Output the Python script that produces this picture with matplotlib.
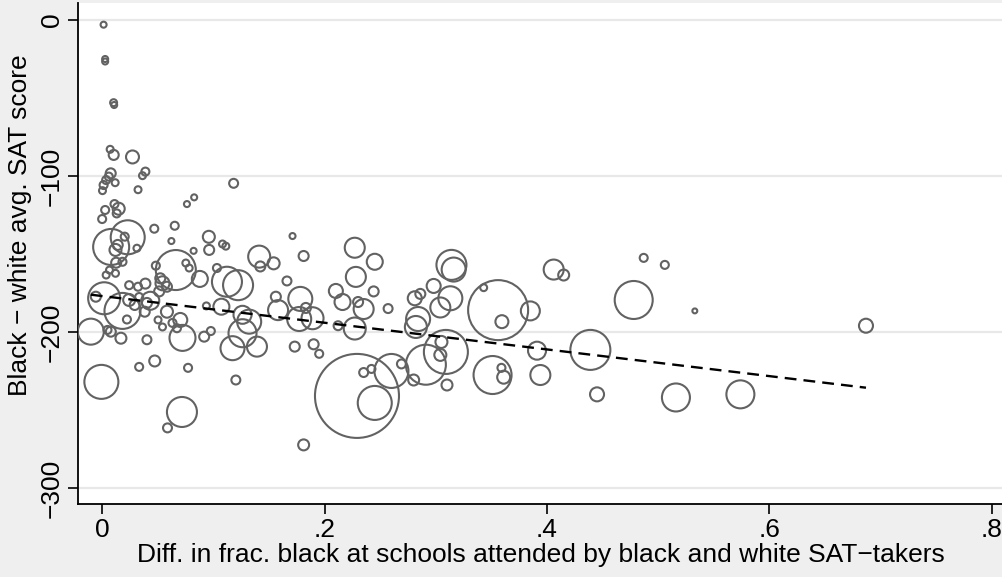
import numpy as np
import matplotlib
matplotlib.use("Agg")
import matplotlib.pyplot as plt

plt.rcParams['font.family'] = ['Liberation Sans Narrow', 'Liberation Sans', 'DejaVu Sans']

# difference in fraction black at schools, black-white SAT gap, bubble weight
frac_diff = [
    .001, .0024, .0024, .010, .0105, .0069, .0101, .027, .0074, .0057,
    .0033, .001, 0.0, .0114, .0386, .036, .032, .118, .076, .0825,
    .0108, .0146, .0024, .0128, -.0003, .0466, .065, .062, .0078, .0227,
    .020, .031, .0137, .0117, .0123, .018, .0063, .0033, .0117, .0957,
    .096, .108, .111, .082, .075, .078, .066, .0876, .048, .103,
    .112, .122, .141, .142, .154, .171, .181, .166, .156, .158,
    .178, .183, .177, .189, .173, .190, .195, .107, .0935, .126,
    .132, .126, .117, .139, .0915, .0975, .0015, -.006, .018, -.0105,
    .0045, .0075, .0166, .040, .054, .052, .051, .058, .024, .032,
    .0386, .024, .033, .029, .040, .038, .022, .058, .050, .054,
    .063, .070, .067, .072, .043, -.001, .033, .047, .077, .0715,
    .0585, .120, .181, .227, .245, .228, .210, .216, .244, .230,
    .235, .257, .212, .227, .281, .286, .298, .313, .304, .284,
    .282, .314, .316, .343, .356, .385, .3594, .406, .415, .229,
    .245, .235, .242, .260, .269, .280, .291, .309, .305, .304,
    .310, .351, .359, .361, .391, .394, .439, .445, .478, .487,
    .506, .533, .516, .574, .687,
]
sat_gap = [
    -3, -25, -26.6, -53, -54.5, -82.9, -86.5, -87.8, -98.3, -100.4,
    -102.6, -105.8, -109.4, -104.3, -97.2, -99.8, -108.8, -104.7, -118, -113.7,
    -118, -121, -121.8, -124, -127.6, -133.8, -131.9, -141.7, -145.5, -139.3,
    -138.9, -146.3, -144.2, -147.4, -155.6, -155, -160.3, -163.5, -162.4, -139,
    -147.4, -143.6, -145, -148, -155.8, -159, -160.3, -166, -157.5, -159,
    -167.8, -170, -151.7, -158, -156, -138.5, -151.3, -167.3, -177.4, -186,
    -178.8, -184.6, -191.7, -191.2, -209.4, -207.9, -214, -183.8, -183.3, -189,
    -193.4, -200.8, -210.4, -209.4, -203, -199.4, -178.4, -177.4, -186.5, -199.8,
    -198.7, -199.8, -204, -205, -168.8, -165.6, -174, -171, -170, -171,
    -169, -179.5, -177.6, -182.7, -181.4, -187, -192, -187, -192.3, -196.8,
    -194.2, -192.3, -197.6, -203.8, -180, -232, -222.4, -218.6, -223, -251.3,
    -261.5, -230.8, -272.4, -146, -155, -164.7, -173.7, -180.8, -174, -180.8,
    -185.3, -185, -196, -197.8, -178.4, -175.6, -170.5, -178.4, -184.3, -191.7,
    -196.8, -157, -160, -171.6, -186, -186.5, -193.4, -160, -163.5, -241,
    -245.5, -226, -223.7, -225, -220.5, -230.8, -221, -212.8, -206.4, -214.7,
    -234, -227.6, -223, -229, -212, -227.6, -211.5, -240, -179.5, -152.5,
    -157, -186.5, -242, -240, -196,
]
weight = [
    9, 9, 9, 12, 9, 12, 25, 42, 25, 16,
    16, 16, 12, 12, 16, 12, 12, 20, 9, 9,
    16, 36, 16, 16, 16, 16, 16, 9, 324, 289,
    16, 12, 25, 36, 25, 16, 12, 12, 12, 36,
    25, 12, 12, 9, 12, 12, 400, 64, 16, 16,
    225, 225, 121, 25, 36, 9, 25, 20, 25, 100,
    144, 25, 144, 121, 25, 25, 16, 64, 12, 81,
    144, 196, 144, 100, 25, 16, 256, 25, 324, 169,
    16, 25, 30, 20, 49, 25, 25, 25, 16, 16,
    25, 36, 16, 25, 25, 25, 16, 36, 12, 12,
    16, 49, 16, 169, 81, 289, 16, 30, 16, 225,
    20, 20, 30, 100, 64, 100, 49, 64, 25, 25,
    100, 20, 20, 121, 49, 25, 49, 144, 100, 144,
    121, 225, 144, 12, 900, 90, 42, 100, 30, 1764,
    289, 20, 16, 289, 20, 30, 400, 484, 36, 36,
    30, 361, 16, 42, 81, 100, 400, 49, 361, 16,
    16, 6, 196, 196, 49,
]

# weighted linear fit shown as dashed line
fit_intercept = -177.0
fit_slope = -85.5

x = np.array(frac_diff)
y = np.array(sat_gap)
w = np.array(weight)

fig = plt.figure(figsize=(10.03, 5.77), dpi=100)
fig.patch.set_facecolor('#efefef')
ax = fig.add_axes([0.0778, 0.1265, 0.9222, 0.8683])
ax.set_facecolor('white')

ax.scatter(x, y, s=w * 1.44 ** 2, facecolors='none', edgecolors='#626262',
           linewidths=1.5, zorder=3)

xf = np.array([x.min(), x.max()])
ax.plot(xf, fit_intercept + fit_slope * xf, color='black', lw=1.7,
        dashes=(5, 3), zorder=4)

ax.set_xlim(-0.022, 0.8103)
ax.set_ylim(-310.3, 10.9)
ax.set_xticks([0, .2, .4, .6, .8])
ax.set_xticklabels(['0', '.2', '.4', '.6', '.8'])
ax.set_yticks([-300, -200, -100, 0])
ax.set_yticklabels(['\u2212300', '\u2212200', '\u2212100', '0'],
                   rotation=90, va='center')
ax.grid(axis='y', color='#e8e8e8', lw=1.6, zorder=0)
ax.set_axisbelow(True)

for side in ['top', 'right']:
    ax.spines[side].set_visible(False)
for side in ['left', 'bottom']:
    ax.spines[side].set_linewidth(1.3)
ax.tick_params(direction='out', length=7, width=1.2, labelsize=19, pad=3)

ax.set_xlabel('Diff. in frac. black at schools attended by black and white SAT\u2212takers',
              fontsize=19, labelpad=1)
ax.set_ylabel('Black \u2212 white avg. SAT score', fontsize=19)
ax.yaxis.set_label_coords(-0.05, 0.557)

fig.savefig('out.png', dpi=100, facecolor=fig.get_facecolor())
